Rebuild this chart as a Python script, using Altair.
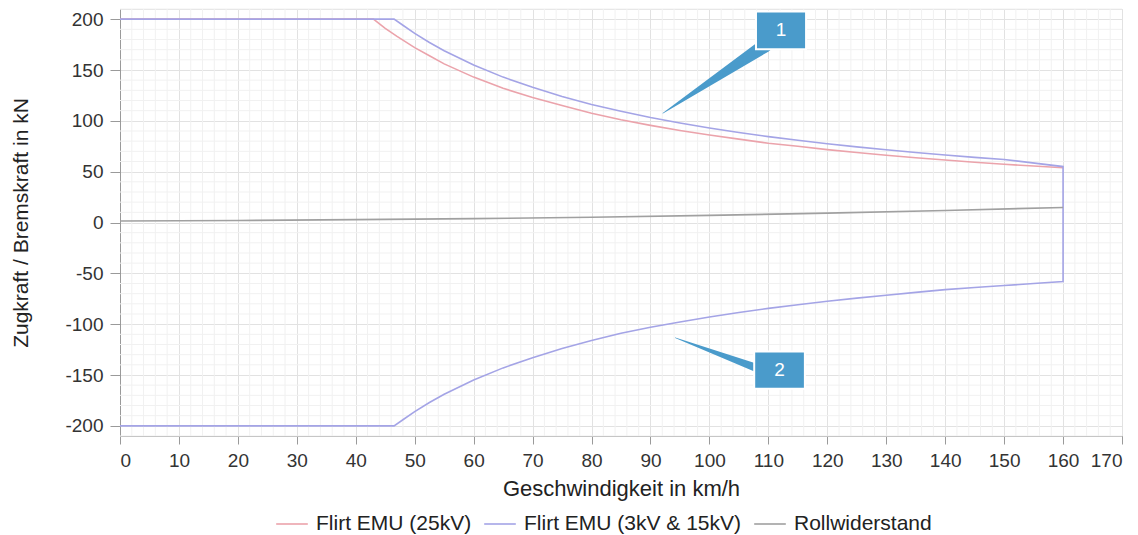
import altair as alt
import pandas as pd

# ---------------- data ----------------
series_names = ["Flirt EMU (25kV)", "Flirt EMU (3kV & 15kV)", "Rollwiderstand"]
series_colors = ["#eba3ab", "#a4a4e6", "#a0a0a0"]

# Flirt EMU (25kV) traction
v_25 = [0, 43, 45, 47, 50, 52.5, 55, 60, 65, 70, 75, 80, 85, 90, 95, 100, 105, 110, 115,
        120, 125, 130, 135, 140, 145, 150, 155, 160]
f_25 = [200, 200, 191, 183, 172, 164, 156, 143, 132, 123, 115, 107.5, 101, 95.5, 90.5, 86,
        82, 78, 75, 71.7, 68.8, 66.2, 63.7, 61.4, 59.3, 57.3, 55.5, 53.8]

# Flirt EMU (3kV & 15kV): traction, vertical at 160, braking back
v_3 = [0, 46.5, 48, 50, 52.5, 55, 60, 65, 70, 75, 80, 85, 90, 95, 100, 105, 110, 115, 120,
       125, 130, 135, 140, 145, 150, 160,
       160, 155, 150, 145, 140, 135, 130, 125, 120, 115, 110, 105, 100, 95, 90,
       85, 80, 75, 70, 65, 60, 55, 52.5, 50, 48, 46.5, 0]
f_3 = [200, 200, 194, 186, 177, 169, 155, 143, 133, 124, 116, 109.4, 103.3, 97.9, 93, 88.6,
       84.5, 80.9, 77.5, 74.4, 71.5, 68.9, 66.4, 64.1, 62, 55,
       -58, -60, -62, -64, -66, -68.7, -71.5, -74.4, -77.5, -80.9, -84.5, -88.6, -93,
       -97.9, -103, -109, -116, -124, -133, -143, -155, -169, -177, -186, -194, -200, -200]

# Rollwiderstand
v_r = [0, 20, 40, 60, 80, 100, 120, 140, 160]
f_r = [1.5, 2.0, 2.8, 3.8, 5.2, 7.0, 9.2, 11.8, 14.8]

# callouts (data coordinates)
call_labels = ["1", "2"]
call_x1 = [107.9, 107.6]
call_x2 = [116.4, 116.2]
call_y1 = [207.5, -127.0]
call_y2 = [170.5, -163.5]
call_tip_v = [92.1, 94.2]
call_tip_f = [107.4, -113.3]
call_base_v = [109.4, 109.4]
call_base_f = [174.0, -146.0]
call_base_w = [14, 9]

x_ticks = list(range(0, 171, 10))
y_ticks = list(range(-200, 201, 50))
x_minor = [v for v in range(0, 171, 2) if v % 10]
y_minor = [f for f in range(-210, 211, 10) if f % 50]

# ---------------- tables ----------------
rows = []
for name, vs, fs in [(series_names[0], v_25, f_25),
                     (series_names[1], v_3, f_3),
                     (series_names[2], v_r, f_r)]:
    for i, (v, f) in enumerate(zip(vs, fs)):
        rows.append({"series": name, "v": v, "f": f, "i": i})
lines_df = pd.DataFrame(rows)

trail_rows = []
for k in range(2):
    trail_rows.append({"c": k, "v": call_tip_v[k], "f": call_tip_f[k], "w": 0.5, "i": 0})
    trail_rows.append({"c": k, "v": call_base_v[k], "f": call_base_f[k], "w": call_base_w[k], "i": 1})
trail_df = pd.DataFrame(trail_rows)

box_df = pd.DataFrame({"label": call_labels, "v": call_x1, "v2": call_x2,
                       "f": call_y1, "f2": call_y2,
                       "vc": [(a + b) / 2 for a, b in zip(call_x1, call_x2)],
                       "fc": [(a + b) / 2 for a, b in zip(call_y1, call_y2)]})

FONT = "Liberation Sans"
xscale = alt.Scale(domain=[0, 170], nice=False, zero=False)
yscale = alt.Scale(domain=[-210, 210], nice=False, zero=False)

X_AX = alt.Axis(values=x_ticks, title="Geschwindigkeit in km/h", grid=True,
                gridColor="#e2e2e2", domainColor="#9a9a9a", tickColor="#9a9a9a",
                tickSize=8, labelPadding=7, labelFontSize=19, labelColor="#333333",
                titleFontSize=22, titleFontWeight="normal", titleColor="#222222",
                titlePadding=8, labelFont=FONT, titleFont=FONT)
Y_AX = alt.Axis(values=y_ticks, title="Zugkraft / Bremskraft in kN", grid=True,
                gridColor="#e2e2e2", domainColor="#9a9a9a", tickColor="#9a9a9a",
                tickSize=10, labelPadding=7, labelFontSize=19, labelColor="#333333",
                titleFontSize=21, titleFontWeight="normal", titleColor="#222222",
                titlePadding=33, labelFont=FONT, titleFont=FONT,
                labelExpr="replace(datum.label, '\u2212', '-')")


def X(field="v:Q"):
    return alt.X(field, scale=xscale, axis=X_AX)


def Y(field="f:Q"):
    return alt.Y(field, scale=yscale, axis=Y_AX)


minor_x = alt.Chart(pd.DataFrame({"v": x_minor})).mark_rule(
    color="#f1f1f1", strokeWidth=1).encode(x=X())
minor_y = alt.Chart(pd.DataFrame({"f": y_minor})).mark_rule(
    color="#f1f1f1", strokeWidth=1).encode(y=Y())

lines = alt.Chart(lines_df).mark_line(strokeWidth=1.6).encode(
    x=X(), y=Y(),
    color=alt.Color("series:N",
                    scale=alt.Scale(domain=series_names, range=series_colors),
                    sort=series_names,
                    legend=alt.Legend(title=None, orient="none", direction="horizontal",
                                      legendX=155, legendY=498,
                                      symbolType="stroke", symbolSize=1000,
                                      symbolStrokeWidth=1.6, labelFontSize=21,
                                      labelFont=FONT, labelColor="#222222",
                                      labelLimit=500,
                                      columnPadding=8, labelOffset=7)),
    order=alt.Order("i:Q"),
)

trails = alt.Chart(trail_df).mark_trail(color="#4a9bcb").encode(
    x=X(), y=Y(),
    size=alt.Size("w:Q", scale=None, legend=None),
    detail="c:N",
    order=alt.Order("i:Q"),
)

boxes = alt.Chart(box_df).mark_rect(color="#4a9bcb", stroke="white", strokeWidth=2).encode(
    x=X(), x2="v2", y=Y(), y2="f2")

texts = alt.Chart(box_df).mark_text(color="white", fontSize=19, font=FONT,
                                    align="center", baseline="middle").encode(
    x=X("vc:Q"), y=Y("fc:Q"), text="label:N")

chart = alt.layer(minor_x, minor_y, lines, trails, boxes, texts).properties(
    width=1002, height=427,
    autosize=alt.AutoSizeParams(type="none"),
    padding={"left": 112, "top": 1, "right": 8, "bottom": 98},
).configure_view(stroke=None).configure(font=FONT, background="white")

chart.save("out.html", embed_options={"renderer": "svg", "actions": False})
